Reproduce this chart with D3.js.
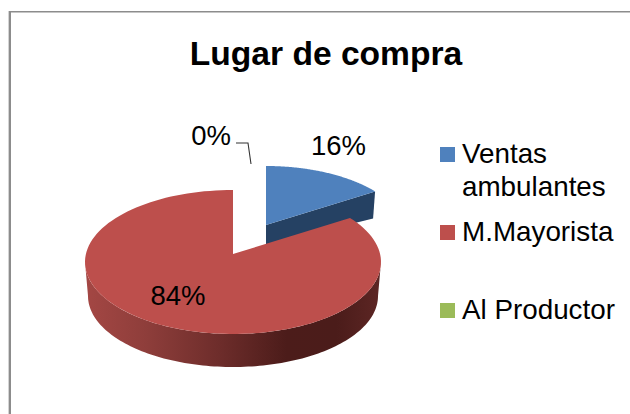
<!DOCTYPE html>
<html>
<head>
<meta charset="utf-8">
<script src="https://cdn.jsdelivr.net/npm/d3@7"></script>
<style>
html,body{margin:0;padding:0;background:#fff}
svg{display:block}
text{font-family:"Liberation Sans",Arial,sans-serif;fill:#000}
</style>
</head>
<body>
<svg id="c" width="630" height="414"></svg>
<script>
const title = "Lugar de compra";
const categories = ["Ventas ambulantes", "M.Mayorista", "Al Productor"];
const legendLines = [["Ventas", "ambulantes"], ["M.Mayorista"], ["Al Productor"]];
const values = [16, 84, 0];
const colors = ["#4f81bd", "#bd4f4c", "#9bbb59"];

const svg = d3.select("#c");
const pie = d3.pie().sort(null).value(d => d);
const arcs = pie(values);
const fmt = v => v + "%";

// Frame
svg.append("rect").attr("x", 8).attr("y", 11).attr("width", 1).attr("height", 403).attr("fill", "#d4d4d4");
svg.append("rect").attr("x", 9).attr("y", 11).attr("width", 2).attr("height", 403).attr("fill", "#8c8c8c");
svg.append("rect").attr("x", 9).attr("y", 11).attr("width", 621).attr("height", 1.5).attr("fill", "#8c8c8c");

// Perspective views: each exploded slice has its own ellipse and an apex off its centre
const viewRed = {cx: 233, cy: 262, rx: 148, ry: 72, off: 8};
const viewBlue = {cx: 266, cy: 234, rx: 140, ry: 68, off: 9};
const depth = 38, depthBlue = 20;

function rim(v, a) {
  const o = v.off / v.ry, dx = Math.sin(a), dy = Math.cos(a);
  const b = o * dy, s = -b + Math.sqrt(b * b + 1 - o * o);
  return [v.cx + v.rx * s * dx, v.cy - v.ry * (o + s * dy)];
}
const apex = v => [v.cx, v.cy - v.off];
const line = d3.line();
const sweep = (v, a0, a1) => d3.range(0, 121).map(i => rim(v, a0 + (a1 - a0) * i / 120));

// Side gradient for the main slice
const defs = svg.append("defs");
const grad = defs.append("linearGradient").attr("id", "side")
  .attr("gradientUnits", "userSpaceOnUse").attr("x1", 85).attr("x2", 381).attr("y1", 0).attr("y2", 0);
[[0, "#a44744"], [0.2, "#8f3e3b"], [0.45, "#6e2d2b"], [0.68, "#4c1c1a"], [0.85, "#4b1c1a"], [1, "#5d2624"]]
  .forEach(s => grad.append("stop").attr("offset", s[0]).attr("stop-color", s[1]));

// Blue slice: cut face, then top
const blue = arcs[0];
const bTip = rim(viewBlue, blue.endAngle), bApex = apex(viewBlue);
svg.append("path").attr("fill", "#254163")
  .attr("d", line([bApex, bTip, [bTip[0] - 2, bTip[1] + depthBlue + 7], [bApex[0], bApex[1] + depthBlue], bApex]) + "Z");
svg.append("path").attr("fill", colors[0])
  .attr("d", line([bApex, ...sweep(viewBlue, blue.startAngle, blue.endAngle)]) + "Z");

// Red slice: side wall, then top
const red = arcs[1];
const ell = (v, dy, shrink, t) => [v.cx + (v.rx - shrink) * Math.sin(t), v.cy + dy + (v.ry - shrink / 3) * Math.cos(t)];
const ts = d3.range(0, 121).map(i => -Math.PI / 2 + Math.PI * i / 120);
const wall = [...ts.map(t => ell(viewRed, 0, 0, t)),
              ...ts.slice().reverse().map(t => ell(viewRed, depth - 4, 3, t))];
svg.append("path").attr("fill", "url(#side)").attr("d", line(wall) + "Z");
svg.append("path").attr("fill", colors[1])
  .attr("d", line([apex(viewRed), ...sweep(viewRed, red.startAngle, red.endAngle)]) + "Z");

// Leader line for the zero slice
svg.append("path").attr("fill", "none").attr("stroke", "#333").attr("stroke-width", 1.1)
  .attr("d", line([[236, 143], [248, 143], [251, 164]]));

// Data labels
const labelPos = [[338.5, 155], [178, 305], [211, 145]];
svg.selectAll("text.lab").data(arcs).join("text").attr("class", "lab")
  .attr("x", (d, i) => labelPos[i][0]).attr("y", (d, i) => labelPos[i][1])
  .attr("text-anchor", "middle").attr("font-size", 27.5)
  .text(d => fmt(d.data));

// Title
svg.append("text").attr("x", 326).attr("y", 65).attr("text-anchor", "middle")
  .attr("font-size", 33.6).attr("font-weight", "bold").text(title);

// Legend
const swatchY = [147, 225, 303];
const baseY = [[163, 196], [241], [319]];
categories.forEach((c, i) => {
  svg.append("rect").attr("x", 440).attr("y", swatchY[i]).attr("width", 15).attr("height", 15).attr("fill", colors[i]);
  legendLines[i].forEach((t, j) => {
    svg.append("text").attr("x", 462).attr("y", baseY[i][j]).attr("font-size", 27.8).text(t);
  });
});
</script>
</body>
</html>
